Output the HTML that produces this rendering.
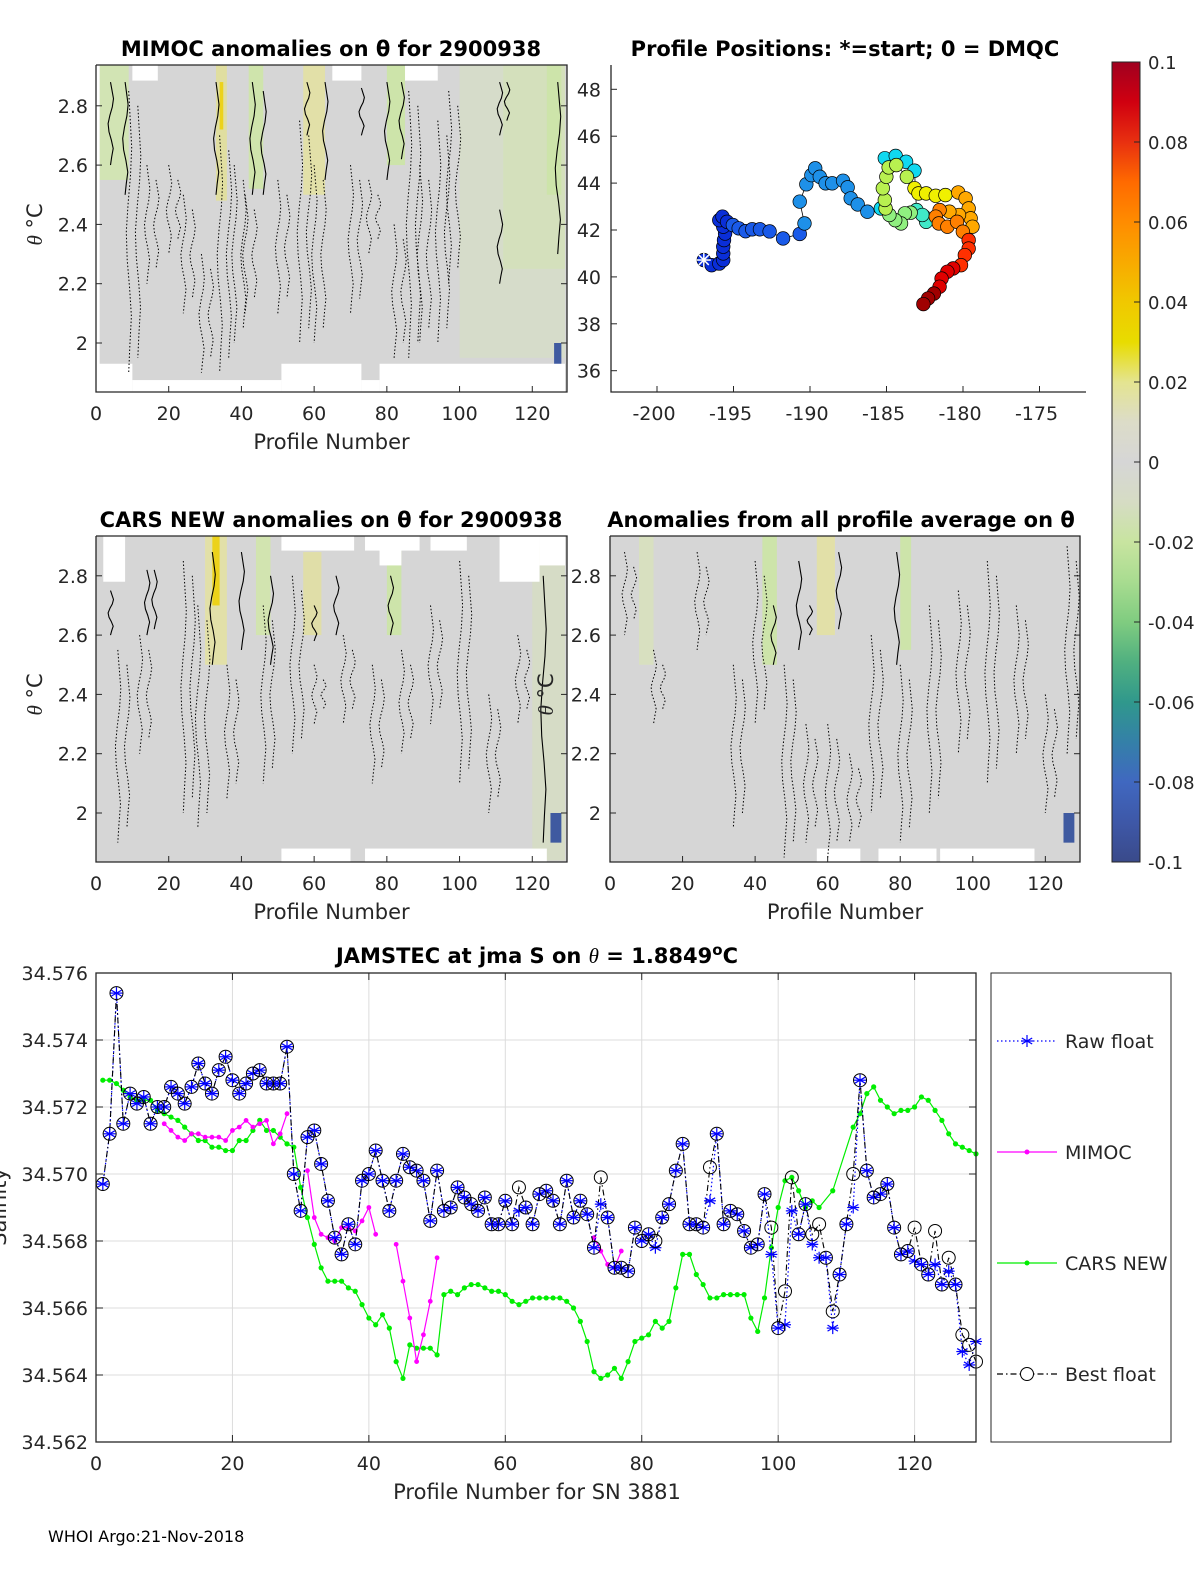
<!DOCTYPE html>
<html><head><meta charset="utf-8"><style>
body{margin:0;background:#fff}
svg{display:block;font-family:"DejaVu Sans","Liberation Sans",sans-serif}
.tk{font-size:19px;fill:#262626}
.tt{font-size:21px;font-weight:bold;fill:#000}
</style></head><body>
<svg id="fig" width="1200" height="1575" viewBox="0 0 1200 1575" xmlns="http://www.w3.org/2000/svg">
<defs>
<linearGradient id="cmap" x1="0" y1="0" x2="0" y2="1">
<stop offset="0" stop-color="#a00020"/><stop offset="0.05" stop-color="#d00010"/><stop offset="0.1" stop-color="#e83010"/>
<stop offset="0.15" stop-color="#ff6a00"/><stop offset="0.2" stop-color="#ff8c00"/><stop offset="0.25" stop-color="#f8aa00"/>
<stop offset="0.3" stop-color="#f0c800"/><stop offset="0.35" stop-color="#e8dc00"/><stop offset="0.4" stop-color="#e4e490"/>
<stop offset="0.45" stop-color="#dcdcc8"/><stop offset="0.5" stop-color="#d6d6d6"/><stop offset="0.55" stop-color="#d6dcc4"/>
<stop offset="0.6" stop-color="#c8e4a0"/><stop offset="0.65" stop-color="#a8dc90"/><stop offset="0.7" stop-color="#80cc80"/>
<stop offset="0.75" stop-color="#50b080"/><stop offset="0.8" stop-color="#30988c"/><stop offset="0.85" stop-color="#3480a8"/>
<stop offset="0.9" stop-color="#4068c0"/><stop offset="0.95" stop-color="#3e58a8"/><stop offset="1" stop-color="#3a4a8a"/>
</linearGradient>
</defs>
</svg>
<script>
// ---------- bottom chart data ----------
const profiles = Array.from({length:129},(_,i)=>i+1);
const bestFloat = [34.5697,34.5712,34.5754,34.5715,34.5724,34.5721,34.5723,34.5715,34.5720,34.5720,
34.5726,34.5724,34.5721,34.5726,34.5733,34.5727,34.5724,34.5731,34.5735,34.5728,
34.5724,34.5727,34.5730,34.5731,34.5727,34.5727,34.5727,34.5738,34.5700,34.5689,
34.5711,34.5713,34.5703,34.5692,34.5681,34.5676,34.5685,34.5679,34.5698,34.5700,
34.5707,34.5698,34.5689,34.5698,34.5706,34.5702,34.5701,34.5698,34.5686,34.5701,
34.5689,34.5690,34.5696,34.5693,34.5691,34.5689,34.5693,34.5685,34.5685,34.5692,
34.5685,34.5696,34.5690,34.5685,34.5694,34.5695,34.5692,34.5685,34.5698,34.5687,
34.5692,34.5688,34.5678,34.5699,34.5687,34.5672,34.5672,34.5671,34.5684,34.5680,
34.5682,34.5680,34.5687,34.5691,34.5701,34.5709,34.5685,34.5685,34.5684,34.5702,
34.5712,34.5685,34.5689,34.5688,34.5683,34.5678,34.5679,34.5694,34.5684,34.5654,
34.5665,34.5699,34.5682,34.5691,34.5682,34.5685,34.5675,34.5659,34.5670,34.5685,
34.5700,34.5728,34.5701,34.5693,34.5694,34.5697,34.5684,34.5676,34.5677,34.5684,
34.5673,34.5670,34.5683,34.5667,34.5675,34.5667,34.5652,34.5649,34.5644];
const rawFloat = bestFloat.slice();
const rawOverrides = [[62,34.5689],[74,34.5691],[82,34.5678],[90,34.5692],[99,34.5676],[101,34.5655],[102,34.5689],[105,34.5679],[106,34.5675],[108,34.5654],[111,34.5690],[120,34.5674],[123,34.5673],[125,34.5671],[127,34.5647],[128,34.5643],[129,34.5650]];
rawOverrides.forEach(([p,v])=>{rawFloat[p-1]=v;});
const carsNew = [34.5728,34.5728,34.5727,34.5725,34.5723,34.5722,34.5722,34.5722,34.5719,34.5718,
34.5717,34.5716,34.5714,34.5712,34.5710,34.5710,34.5708,34.5708,34.5707,34.5707,
34.5710,34.5710,34.5713,34.5716,34.5713,34.5713,34.5711,34.5709,34.5708,34.5696,
34.5687,34.5679,34.5672,34.5668,34.5668,34.5668,34.5666,34.5665,34.5661,34.5657,
34.5655,34.5658,34.5654,34.5644,34.5639,34.5649,34.5648,34.5648,34.5648,34.5646,
34.5664,34.5665,34.5664,34.5666,34.5667,34.5667,34.5666,34.5665,34.5665,34.5664,
34.5662,34.5661,34.5662,34.5663,34.5663,34.5663,34.5663,34.5663,34.5662,34.5660,
34.5656,34.5650,34.5641,34.5639,34.5640,34.5642,34.5639,34.5644,34.5650,34.5651,
34.5652,34.5656,34.5654,34.5656,34.5666,34.5676,34.5676,34.5670,34.5667,34.5663,
34.5663,34.5664,34.5664,34.5664,34.5664,34.5657,34.5653,34.5663,34.5678,34.5690,
34.5698,34.5699,34.5695,34.5690,34.5692,34.5690,null,34.5695,null,null,
34.5714,34.5718,34.5724,34.5726,34.5722,34.5720,34.5718,34.5719,34.5719,34.5720,
34.5723,34.5722,34.5719,34.5716,34.5712,34.5709,34.5708,34.5707,34.5706];
const mimoc = new Array(129).fill(null);
const mimocPts = [[10,34.5715],[11,34.5713],[12,34.5711],[13,34.5710],[14,34.5712],[15,34.5712],[16,34.5711],[17,34.5711],[18,34.5711],[19,34.5710],[20,34.5713],[21,34.5714],[22,34.5716],[23,34.5714],[24,34.5715],[25,34.5716],[26,34.5709],[27,34.5712],[28,34.5718],
[31,34.5701],[32,34.5687],[33,34.5682],[34,34.5681],[35,34.5680],[36,34.5684],[37,34.5684],[38,34.5683],[39,34.5686],[40,34.5690],[41,34.5682],
[44,34.5679],[45,34.5668],[46,34.5657],[47,34.5644],[48,34.5652],[49,34.5662],[50,34.5675],
[73,34.5681],[74,34.5677],[75,34.5673],[76,34.5672],[77,34.5677]];
mimocPts.forEach(([p,v])=>{mimoc[p-1]=v;});
const yTicks = [34.562,34.564,34.566,34.568,34.570,34.572,34.574,34.576];
const xTicks = [0,20,40,60,80,100,120];

// ---------- map data ----------
const trackLon = [-196.94,-196.43,-195.93,-195.67,-195.67,-195.67,-195.62,-195.55,-195.67,-195.93,-195.72,-195.42,-195.04,-194.66,-194.21,-193.78,-193.27,-192.64,-191.76,-190.67,-190.36,-190.67,-190.24,-189.91,-189.66,-189.36,-188.98,-188.55,-187.84,-187.54,-187.34,-186.88,-186.25,-185.37,-185.11,-184.40,-183.72,-183.17,-183.04,-182.54,-182.41,-182.66,-183.42,-183.80,-184.05,-184.43,-184.81,-185.06,-185.11,-185.24,-185.01,-184.86,-184.36,-183.67,-183.17,-182.91,-182.41,-181.78,-181.15,-180.31,-179.83,-179.63,-179.50,-179.38,-180.26,-180.89,-181.53,-181.78,-181.58,-181.02,-180.39,-180.01,-179.63,-179.63,-179.88,-180.13,-180.64,-181.02,-181.40,-181.53,-181.90,-182.28,-182.59];
const trackLat = [40.72,40.50,40.57,40.72,41.00,41.29,41.57,41.85,42.14,42.42,42.57,42.35,42.21,42.07,41.95,42.03,42.03,41.94,41.64,41.83,42.28,43.21,43.95,44.34,44.63,44.27,43.99,43.99,44.10,43.82,43.35,43.09,42.78,42.92,45.06,45.16,44.91,44.53,42.85,42.57,42.35,42.64,42.74,42.71,42.28,42.42,42.64,42.92,43.28,43.78,44.27,44.67,44.77,44.27,43.78,43.56,43.56,43.46,43.49,43.60,43.35,42.92,42.50,42.14,42.64,42.78,42.85,42.57,42.28,42.14,42.35,41.93,41.57,41.21,40.93,40.50,40.36,40.22,39.93,39.58,39.29,39.08,38.84];
const lonTicks = [-200,-195,-190,-185,-180,-175];
const latTicks = [36,38,40,42,44,46,48];

// ---------- anomaly panel decorations ----------
const bandsA = [[1,9,'#d2e4b4',2.94,2.55],[33,36,'#e0dea0',2.94,2.48],[34,35,'#ecd21a',2.88,2.72],[42,46,'#cfe4ac',2.94,2.52],[57,63,'#e2e0a8',2.94,2.5],[80,85,'#cde4aa',2.94,2.6],[100,129,'#d6dcca',2.94,1.95],[112,129,'#d4e0bc',2.94,2.25],[124,128,'#cde4aa',2.94,2.5],[126,128,'#3f5aa0',2.0,1.92]];
const bandsC = [[30,36,'#e2e0a8',2.94,2.5],[32,34,'#ecd21a',2.94,2.7],[44,48,'#d2e4b0',2.94,2.6],[57,62,'#e0dea8',2.88,2.6],[80,84,'#cde4aa',2.9,2.6],[120,129,'#d6dcc6',2.9,1.84],[125,128,'#3f5aa0',2.0,1.9]];
const bandsD = [[8,12,'#d8e0c0',2.94,2.5],[42,46,'#cde4aa',2.94,2.5],[57,62,'#e2e0a8',2.94,2.6],[80,83,'#cde4aa',2.94,2.55],[125,128,'#3f5aa0',2.0,1.9]];
const whiteA = [[10,17,2.94,2.885],[65,73,2.94,2.885],[85,94,2.94,2.885],[0,10,1.93,1.83],[51,73,1.93,1.83],[78,129,1.93,1.83],[10,51,1.875,1.83],[73,78,1.875,1.83],[0,1,2.94,1.83]];
const whiteC = [[2,8,2.94,2.78],[51,71,2.94,2.885],[74,89,2.94,2.885],[78,84,2.94,2.835],[92,102,2.94,2.885],[111,122,2.94,2.78],[122,129,2.94,2.835],[51,70,1.88,1.83],[74,124,1.88,1.83]];
const whiteD = [[57,69,1.88,1.83],[74,90,1.88,1.83],[91,117,1.88,1.83]];
const solidA = [[4,2.88,2.6],[8,2.88,2.5],[33,2.88,2.5],[43,2.88,2.5],[46,2.85,2.5],[58,2.88,2.7],[63,2.88,2.55],[73,2.86,2.7],[80,2.88,2.55],[84,2.88,2.62],[111,2.88,2.7],[113,2.88,2.75],[111,2.45,2.2],[127,2.88,2.3]];
const dotA = [[9,2.85,1.9],[14,2.6,2.2],[20,2.6,2.3],[24,2.5,2.1],[29,2.3,1.9],[34,2.7,1.9],[38,2.6,2.0],[41,2.5,2.1],[50,2.55,2.1],[56,2.75,2.0],[60,2.6,2.0],[70,2.6,2.1],[75,2.55,2.3],[82,2.4,1.95],[86,2.85,1.95],[89,2.6,2.0],[94,2.75,2.0],[97,2.85,2.2]];
const solidC = [[4,2.75,2.6],[14,2.82,2.6],[16,2.82,2.62],[32,2.88,2.5],[40,2.88,2.55],[48,2.8,2.5],[60,2.7,2.58],[66,2.8,2.6],[81,2.8,2.6],[123,2.8,1.9]];
const dotC = [[6,2.55,1.9],[12,2.6,2.2],[24,2.85,2.0],[28,2.7,1.95],[36,2.5,2.05],[46,2.7,2.1],[54,2.8,2.2],[60,2.5,2.3],[68,2.6,2.3],[76,2.5,2.1],[84,2.55,2.2],[92,2.7,2.3],[100,2.85,2.1],[108,2.4,2.0],[116,2.6,2.3]];
const solidD = [[45,2.7,2.5],[52,2.85,2.55],[55,2.7,2.6],[63,2.88,2.62],[79,2.88,2.5]];
const dotD = [[4,2.88,2.6],[12,2.55,2.3],[24,2.88,2.55],[34,2.5,1.95],[40,2.85,2.3],[48,2.5,1.85],[54,2.3,1.9],[60,2.3,1.85],[66,2.2,1.9],[72,2.6,2.0],[80,2.5,1.9],[88,2.7,2.0],[96,2.75,2.2],[104,2.85,2.1],[112,2.7,2.2],[120,2.4,2.0],[126,2.9,2.2]];
const wig = [0,0.5,1,0.6,-0.2,-0.8,-0.5,0.3,0.9,0.4];

const NS='http://www.w3.org/2000/svg';
const svg=document.getElementById('fig');
function mk(tag,attrs,parent){const e=document.createElementNS(NS,tag);for(const k in attrs)e.setAttribute(k,attrs[k]);(parent||svg).appendChild(e);return e;}
function txt(x,y,s,cls,anchor,parent){const t=mk('text',{x:x,y:y,class:cls,'text-anchor':anchor||'middle'},parent);t.textContent=s;return t;}

// ---------- anomaly panels ----------
function anomalyPanel(name,L,R,T,B,y2,bands,whites,solids,dots,title,tx,showX,yLabelX,yTitleX){
  const g=mk('g',{});
  
  
  const px=p=>L+p*(R-L-2)/129;
  const py=t=>y2-(t-2)*296.5;
  mk('rect',{x:L,y:T,width:R-L,height:B-T,fill:'#d6d6d6'},g);
  bands.forEach(b=>{const r=mk('rect',{x:px(b[0]),y:Math.max(T,py(b[3])),width:px(b[1])-px(b[0]),height:Math.min(B,py(b[4]))-Math.max(T,py(b[3])),fill:b[2]},g);
    
    });
  whites.forEach(w=>{mk('rect',{x:px(w[0]),y:Math.max(T,py(w[2])),width:px(w[1])-px(w[0]),height:Math.min(B,py(w[3]))-Math.max(T,py(w[2])),fill:'#fff'},g);});
  function wline(c,dashed){
    let pts=[];const n=10;
    for(let i=0;i<=n;i++){const t=c[1]+(c[2]-c[1])*i/n;pts.push((px(c[0])+wig[i%wig.length]*3).toFixed(1)+','+py(t).toFixed(1));}
    const pl=mk('polyline',{points:pts.join(' '),fill:'none',stroke:'#000','stroke-width':dashed?1:1.1,'stroke-dasharray':dashed?'1.5 2':'none','stroke-linejoin':'round'},g);
    
    
  }
  solids.forEach(c=>wline(c,false));
  dots.forEach(c=>{wline(c,true);wline([c[0]+2.5,c[1]-0.05,c[2]+0.05],true);});
  mk('path',{d:`M${L} ${T}V${B}H${R}V${T}H${L}`,fill:'none',stroke:'#262626','stroke-width':1.3},g);
  [2,2.2,2.4,2.6,2.8].forEach(t=>{
    mk('line',{x1:L,x2:L+6,y1:py(t),y2:py(t),stroke:'#262626'},g);
    mk('line',{x1:R,x2:R-6,y1:py(t),y2:py(t),stroke:'#262626'},g);
    const lb=txt(yLabelX,py(t)+7,String(t),'tk','end',g);
    
    
  });
  [0,20,40,60,80,100,120].forEach(p=>{
    mk('line',{x1:px(p),x2:px(p),y1:B,y2:B-6,stroke:'#262626'},g);
    const lb=txt(px(p),B+28,String(p),'tk','middle',g);
    
    
  });
  const xl=txt((L+R)/2,B+57,'Profile Number','tk','middle',g);xl.setAttribute('style','font-size:21px');
  
  
  const tt=txt(tx,T-9,title,'tt','middle',g);
  
  
  if(yTitleX){const yt=mk('text',{x:0,y:0,class:'tk','text-anchor':'middle',transform:`translate(${yTitleX},${py(2.4)}) rotate(-90)`},g);
    yt.setAttribute('style','font-size:21px');yt.innerHTML='<tspan font-style="italic" font-family="Liberation Serif">θ</tspan> °C';
    
    }
}
anomalyPanel('mimoc-anomaly-panel',96,567,65,392,343,bandsA,whiteA,solidA,dotA,'MIMOC anomalies on θ  for 2900938',331,true,88,42);
anomalyPanel('cars-anomaly-panel',96,567,536,862,813,bandsC,whiteC,solidC,dotC,'CARS NEW anomalies on θ for 2900938',331,true,88,42);
anomalyPanel('profile-average-anomaly-panel',610,1080,536,862,813,bandsD,whiteD,solidD,dotD,'Anomalies from all profile average on θ',841,true,601,553);

// ---------- map ----------
(function(){
  const g=mk('g',{});
  
  
  const mx=lon=>657+(lon+200)*15.3;
  const my=lat=>89.3+(48-lat)*23.45;
  mk('path',{d:'M611 65V392H1086',fill:'none',stroke:'#262626','stroke-width':1.3},g);
  lonTicks.forEach(v=>{mk('line',{x1:mx(v),x2:mx(v),y1:392,y2:386,stroke:'#262626'},g);
    const l=txt(mx(v)-3,420,String(v),'tk','middle',g);
    
    });
  latTicks.forEach(v=>{mk('line',{x1:611,x2:617,y1:my(v),y2:my(v),stroke:'#262626'},g);
    const l=txt(601,my(v)+7,String(v),'tk','end',g);
    
    });
  mk('polyline',{points:trackLon.map((v,i)=>mx(v)+','+my(trackLat[i])).join(' '),fill:'none',stroke:'#000','stroke-width':0.8},g);
  function col(i){
    if(i<12) return '#0a2ed8';
    if(i<20) return '#1a5ae8';
    if(i<33) return '#1e90e8';
    if(i<38) return '#10d8f0';
    if(i<42) return '#40e8c8';
    if(i<47) return '#90f080';
    if(i<54) return '#b8f050';
    if(i<59) return '#f0f000';
    if(i<66) return '#ffa800';
    if(i<72) return '#ff8000';
    if(i<76) return '#ff3000';
    if(i<80) return '#e00000';
    return '#a00000';
  }
  trackLon.forEach((v,i)=>{const c=mk('circle',{cx:mx(v),cy:my(trackLat[i]),r:6.8,fill:col(i),stroke:'#000','stroke-width':0.7},g);
    
    });
  const sx=mx(trackLon[0]),sy=my(trackLat[0]);
  [0,45,90,135].forEach(a=>{const r=a*Math.PI/180;mk('line',{x1:sx-7*Math.cos(r),y1:sy-7*Math.sin(r),x2:sx+7*Math.cos(r),y2:sy+7*Math.sin(r),stroke:'#fff','stroke-width':1.5},g);});
  const t=txt(845,56,'Profile Positions: *=start; 0 = DMQC','tt','middle',g);
  
  
})();

// ---------- colorbar ----------
(function(){
  const g=mk('g',{});
  
  
  mk('rect',{x:1112,y:62,width:28,height:800,fill:'url(#cmap)',stroke:'#262626','stroke-width':1},g);
  ['0.1','0.08','0.06','0.04','0.02','0','-0.02','-0.04','-0.06','-0.08','-0.1'].forEach((s,i)=>{
    const y=62+i*80;mk('line',{x1:1134,x2:1140,y1:y,y2:y,stroke:'#262626'},g);
    const l=txt(1148,y+7,s,'tk','start',g);l.setAttribute('style','font-size:18px');
    
    });
})();

// ---------- bottom salinity chart ----------
(function(){
  const L=96,R=976,T=973,B=1442;
  const bx=p=>L+p*(R-L)/129;
  const by=v=>B-(v-34.562)/0.014*(B-T);
  const g=mk('g',{});
  
  
  mk('rect',{x:L,y:T,width:R-L,height:B-T,fill:'#fff'},g);
  xTicks.forEach(p=>{mk('line',{x1:bx(p),x2:bx(p),y1:T,y2:B,stroke:'#dcdcdc'},g);});
  yTicks.forEach(v=>{mk('line',{x1:L,x2:R,y1:by(v),y2:by(v),stroke:'#dcdcdc'},g);});
  function line(vals,color,dash,w,name){
    let segs=[],cur=[];
    vals.forEach((v,i)=>{if(v==null){if(cur.length)segs.push(cur);cur=[];}else cur.push(bx(profiles[i])+','+by(v));});
    if(cur.length)segs.push(cur);
    segs.forEach(s=>{const pl=mk('polyline',{points:s.join(' '),fill:'none',stroke:color,'stroke-width':w,'stroke-dasharray':dash},g);
      
      });
  }
  const cv=carsNew.map((v,i)=>v==null?null:bx(profiles[i])+','+by(v)).filter(s=>s);
  const cl=mk('polyline',{points:cv.join(' '),fill:'none',stroke:'#00ee00','stroke-width':1.2},g);
  
  
  carsNew.forEach((v,i)=>{if(v==null)return;const c=mk('circle',{cx:bx(profiles[i]),cy:by(v),r:2.6,fill:'#00ee00'},g);
    
    });
  line(mimoc,'#ff00ff','none',1.2,'mimoc-line');
  mimoc.forEach((v,i)=>{if(v==null)return;const c=mk('circle',{cx:bx(profiles[i]),cy:by(v),r:2.4,fill:'#ff00ff'},g);
    
    });
  line(rawFloat,'#0000ff','1.5 2.5',1.2,'raw-float-line');
  line(bestFloat,'#000','6 3 1.5 3',1.1,'best-float-line');
  function star(x,y,gg){[0,60,120].forEach(a=>{const r=a*Math.PI/180+Math.PI/2;mk('line',{x1:x-6*Math.cos(r),y1:y-6*Math.sin(r),x2:x+6*Math.cos(r),y2:y+6*Math.sin(r),stroke:'#0000ff','stroke-width':1.2},gg);});
    mk('line',{x1:x-6,x2:x+6,y1:y,y2:y,stroke:'#0000ff','stroke-width':1.2},gg);}
  rawFloat.forEach((v,i)=>{const s=mk('g',{},g);
    
    
    star(bx(profiles[i]),by(v),s);});
  bestFloat.forEach((v,i)=>{const c=mk('circle',{cx:bx(profiles[i]),cy:by(v),r:6.5,fill:'none',stroke:'#000','stroke-width':1},g);
    
    });
  mk('rect',{x:L,y:T,width:R-L,height:B-T,fill:'none',stroke:'#262626','stroke-width':1.3},g);
  yTicks.forEach(v=>{mk('line',{x1:L,x2:L+7,y1:by(v),y2:by(v),stroke:'#262626'},g);mk('line',{x1:R,x2:R-7,y1:by(v),y2:by(v),stroke:'#262626'},g);
    const l=txt(88,by(v)+7,v.toFixed(3),'tk','end',g);
    
    });
  xTicks.forEach(p=>{mk('line',{x1:bx(p),x2:bx(p),y1:B,y2:B-7,stroke:'#262626'},g);mk('line',{x1:bx(p),x2:bx(p),y1:T,y2:T+7,stroke:'#262626'},g);
    const l=txt(bx(p),B+28,String(p),'tk','middle',g);
    
    });
  const xl=txt(537,B+57,'Profile Number for SN 3881','tk','middle',g);xl.setAttribute('style','font-size:21px');
  
  
  const yl=mk('text',{x:0,y:0,class:'tk','text-anchor':'middle',transform:'translate(6,1207) rotate(-90)',style:'font-size:21px'},g);
  yl.textContent='Salinity';
  
  
  const tt=mk('text',{x:537,y:963,class:'tt','text-anchor':'middle'},g);
  tt.innerHTML='JAMSTEC at jma S on <tspan font-style="italic" font-family="Liberation Serif" font-weight="normal">θ</tspan> = 1.8849<tspan dy="-8" font-size="15">o</tspan><tspan dy="8">C</tspan>';
  
  
  const lg=mk('g',{},g);
  
  
  mk('rect',{x:991,y:973,width:180,height:469,fill:'#fff',stroke:'#262626','stroke-width':1},lg);
  const ents=[['Raw float',1041],['MIMOC',1152],['CARS NEW',1263],['Best float',1374]];
  ents.forEach(([n,y],k)=>{
    const e=mk('g',{},lg);
    
    
    const cols=['#0000ff','#ff00ff','#00ee00','#000'];const dashes=['1.5 2.5','none','none','6 3 1.5 3'];
    mk('line',{x1:997,x2:1057,y1:y,y2:y,stroke:cols[k],'stroke-width':1.2,'stroke-dasharray':dashes[k]},e);
    if(k==0)star(1027,y,e);
    if(k==1||k==2)mk('circle',{cx:1027,cy:y,r:2.5,fill:cols[k]},e);
    if(k==3)mk('circle',{cx:1027,cy:y,r:6.5,fill:'#fff',stroke:'#000'},e);
    txt(1065,y+7,n,'tk','start',e);
  });
})();
const ft=txt(48,1542,'WHOI Argo:21-Nov-2018','tk','start');
ft.setAttribute('style','font-size:16px;fill:#000');


</script>
</body></html>
